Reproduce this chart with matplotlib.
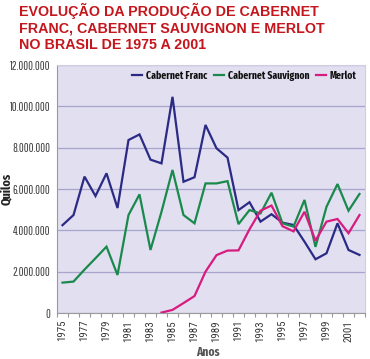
import numpy as np
import matplotlib
matplotlib.use('Agg')
import matplotlib.pyplot as plt
from matplotlib.ticker import FuncFormatter, FixedLocator

# values in kg (millions)
years = list(range(1975, 2003))
franc = [4.25, 4.74, 6.6, 5.66, 6.76, 5.08, 8.37, 8.64, 7.42, 7.24,
         10.46, 6.35, 6.57, 9.1, 7.97, 7.52, 4.98, 5.36, 4.42, 4.78,
         4.37, 4.26, 3.45, 2.6, 2.89, 4.34, 3.05, 2.81]
sauvignon = [1.47, 1.52, 2.1, 2.65, 3.21, 1.84, 4.74, 5.74, 3.05, 4.9,
             6.92, 4.74, 4.34, 6.27, 6.27, 6.38, 4.3, 4.98, 4.82, 5.82,
             4.34, 4.18, 5.47, 3.2, 5.14, 6.24, 4.95, 5.76]
merlot = [None] * 9 + [0.02, 0.15, 0.48, 0.82, 2.0, 2.8, 3.02, 3.03, 4.05,
                       4.95, 5.2, 4.2, 3.95, 4.9, 3.5, 4.42, 4.55, 3.86, 4.74]
series_names = ['Cabernet Franc', 'Cabernet Sauvignon', 'Merlot']
colors = ['#2B2A85', '#1A8A4C', '#D81B7F']
yticks = [0, 2e6, 4e6, 6e6, 8e6, 10e6, 12e6]
title_lines = ['EVOLUÇÃO DA PRODUÇÃO DE CABERNET',
               'FRANC, CABERNET SAUVIGNON E MERLOT',
               'NO BRASIL DE 1975 A 2001']

cond = 'Roboto Condensed'
xcond = 'Fira Sans Extra Condensed'
tall = 'Pathway Gothic One'
W, H = 370, 359
fig = plt.figure(figsize=(W / 100, H / 100), dpi=100)
ax = fig.add_axes([57 / W, 46 / H, 308 / W, 248 / H])
ax.set_facecolor('#E1DFF0')

x = np.arange(len(years))
for vals, name, c in zip([franc, sauvignon, merlot], series_names, colors):
    v = np.array([np.nan if a is None else a * 1e6 for a in vals])
    ax.plot(x, v, color=c, lw=1.6, label=name, solid_joinstyle='miter')

ax.set_xlim(-0.5, len(years) - 0.5)
ax.set_ylim(0, 12e6)
ax.set_yticks(yticks)
ax.yaxis.set_major_formatter(FuncFormatter(lambda v, p: f'{int(v):,}'.replace(',', '.')))
ax.grid(axis='y', color='#A9A4CC', lw=0.9)
ax.set_axisbelow(True)

# ticks at category edges, labels every other year in the middle
ax.xaxis.set_major_locator(FixedLocator(np.arange(-0.5, len(years), 1)))
ax.xaxis.set_major_formatter(FuncFormatter(lambda v, p: ''))
ax.xaxis.set_minor_locator(FixedLocator(x[::2]))
ax.set_xticklabels([str(y) for y in years[::2]], minor=True)
ax.tick_params(axis='x', which='major', length=3, color='#999999', width=0.8)
ax.tick_params(axis='x', which='minor', length=0, pad=5)
ax.tick_params(axis='y', length=0, pad=5)
for lab in ax.get_xticklabels(minor=True):
    lab.set_rotation(90)
    lab.set_fontfamily(cond)
    lab.set_fontsize(7.9)
    lab.set_color('#3a3a3a')
for lab in ax.get_yticklabels():
    lab.set_fontfamily(tall)
    lab.set_fontsize(8.5)
    lab.set_color('#3a3a3a')

for s in ['top', 'right']:
    ax.spines[s].set_color('#CFCDE0')
for s in ['left', 'bottom']:
    ax.spines[s].set_color('#9a9a9a')

ax.set_xlabel('Anos', fontfamily=xcond, fontweight='bold', fontsize=9,
              color='#555555')
ax.xaxis.set_label_coords((208 - 57) / 308, -(352 - 313) / 248)
ax.xaxis.label.set_va('center')
ax.set_ylabel('Quilos', fontfamily=xcond, fontweight='bold', fontsize=9.5,
              color='#222222')
ax.yaxis.set_label_coords((7.5 - 57) / 308, 0.5)
ax.yaxis.label.set_va('center')

leg = ax.legend(loc='upper right', bbox_to_anchor=(1.0, 1.012), ncol=3, frameon=False,
                handlelength=0.95, handletextpad=0.35, columnspacing=0.65,
                borderaxespad=0.4,
                prop={'family': xcond, 'weight': 'bold', 'size': 7.6})
for t in leg.get_texts():
    t.set_color('#111111')

for i, line in enumerate(title_lines):
    fig.text(19 / W, 1 - (16 + i * 16.5) / H, line, ha='left', va='baseline',
             fontfamily='Liberation Sans', fontweight='bold', fontsize=10.3,
             color='#C4161C')

fig.savefig('out.png', dpi=100)
